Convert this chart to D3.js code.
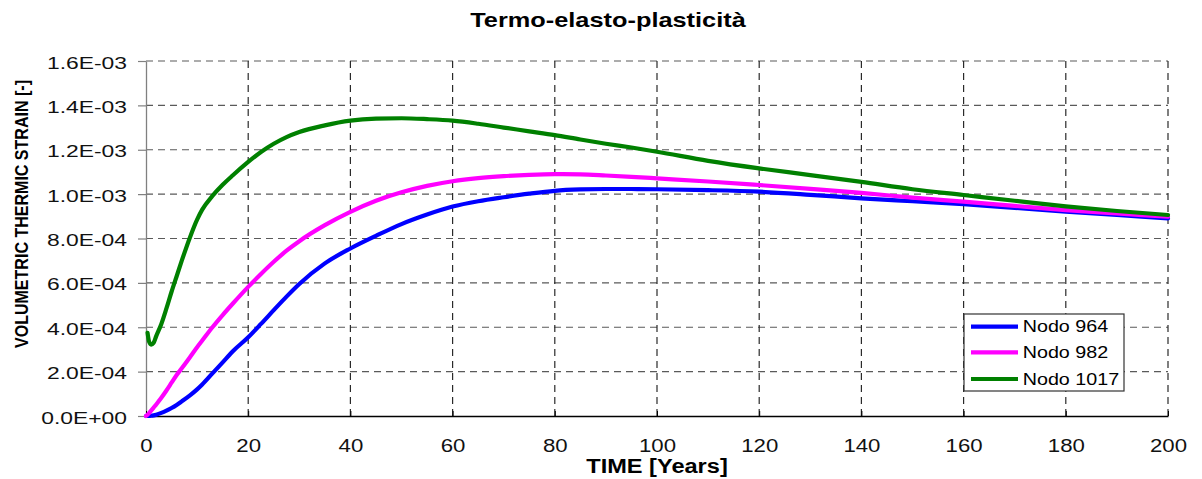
<!DOCTYPE html>
<html>
<head>
<meta charset="utf-8">
<script src="https://cdn.jsdelivr.net/npm/d3@7"></script>
<style>
  html, body { margin: 0; padding: 0; background: #fff; }
  svg { display: block; font-family: "Liberation Sans", Arial, sans-serif; }
</style>
</head>
<body>
<svg id="chart" width="1202" height="479"></svg>
<script>
// Time samples (years) shared by all three nodes
const years = [0, 0.3, 0.6, 1, 1.5, 2, 3, 4, 5, 6, 7, 8.6, 10, 11, 13, 15, 17, 20, 22.5, 25, 27.5, 30,
  35, 40, 45, 50, 55, 60, 65, 70, 75, 80, 85, 90, 95, 100, 110, 120, 130, 140, 150, 160, 170, 180, 190, 200];

// Volumetric thermic strain, in units of 1E-04
const nodo964 = [0, 0, 0.005, 0.01, 0.03, 0.06, 0.14, 0.24, 0.36, 0.5, 0.66, 0.93, 1.2, 1.42, 1.92, 2.42, 2.92, 3.55,
  4.15, 4.77, 5.38, 5.95, 6.88, 7.55, 8.12, 8.65, 9.08, 9.44, 9.68, 9.86, 10.02, 10.15, 10.21, 10.23, 10.23, 10.22,
  10.18, 10.11, 9.97, 9.81, 9.68, 9.55, 9.38, 9.21, 9.06, 8.91];
const nodo982 = [0, 0.06, 0.13, 0.24, 0.38, 0.52, 0.82, 1.15, 1.5, 1.85, 2.15, 2.65, 3.1, 3.4, 4.0, 4.55, 5.07, 5.82,
  6.4, 6.95, 7.45, 7.88, 8.6, 9.2, 9.7, 10.08, 10.37, 10.58, 10.72, 10.81, 10.87, 10.9, 10.89, 10.84, 10.78, 10.71,
  10.57, 10.41, 10.24, 10.06, 9.84, 9.66, 9.47, 9.28, 9.13, 8.98];
const nodo1017 = [null, 3.75, 3.35, 3.22, 3.3, 3.6, 4.15, 4.85, 5.6, 6.3, 7.0, 8.05, 8.85, 9.3, 9.92, 10.42, 10.85, 11.45,
  11.9, 12.27, 12.57, 12.8, 13.1, 13.31, 13.4, 13.42, 13.38, 13.31, 13.17, 13.0, 12.83, 12.66, 12.46, 12.27, 12.1, 11.91,
  11.5, 11.16, 10.86, 10.55, 10.22, 9.96, 9.7, 9.45, 9.24, 9.06];

const seriesNames = ["Nodo 964", "Nodo 982", "Nodo 1017"];
const seriesColors = ["#0000ff", "#ff00ff", "#008000"];

const xTicks = [0, 20, 40, 60, 80, 100, 120, 140, 160, 180, 200];
const yTicks = [0, 2e-4, 4e-4, 6e-4, 8e-4, 1e-3, 1.2e-3, 1.4e-3, 1.6e-3];
const yTickLabels = ["0.0E+00", "2.0E-04", "4.0E-04", "6.0E-04", "8.0E-04", "1.0E-03", "1.2E-03", "1.4E-03", "1.6E-03"];

const svg = d3.select("#chart");
const x = d3.scaleLinear().domain([0, 200]).range([146, 1168]);
const y = d3.scaleLinear().domain([0, 1.6e-3]).range([416, 61]);

svg.append("rect").attr("width", 1202).attr("height", 479).attr("fill", "#fff");

// Grid
const grid = svg.append("g");
grid.selectAll("line.h").data(yTicks.slice(1)).join("line")
  .attr("x1", x(0)).attr("x2", x(200))
  .attr("y1", d => y(d)).attr("y2", d => y(d))
  .attr("stroke", "#5a5a5a").attr("stroke-width", 1.2).attr("stroke-dasharray", "7,5");
grid.selectAll("line.v").data(xTicks.slice(1)).join("line")
  .attr("x1", d => x(d)).attr("x2", d => x(d))
  .attr("y1", y(1.6e-3)).attr("y2", y(0))
  .attr("stroke", "#2a2a2a").attr("stroke-width", 1.2).attr("stroke-dasharray", "7,5");

// Axes
const yAxis = svg.append("g").attr("transform", `translate(${x(0)},0)`)
  .call(d3.axisLeft(y).tickValues(yTicks).tickFormat((d, i) => yTickLabels[i]).tickSize(8).tickSizeOuter(0));
yAxis.select(".domain").attr("stroke", "#808080").attr("stroke-width", 1.3);
yAxis.selectAll(".tick line").attr("stroke", "#808080").attr("stroke-width", 1.2);
yAxis.selectAll(".tick text")
  .attr("x", null).attr("dy", null)
  .attr("transform", "translate(-19,7) scale(1.33,1)")
  .attr("text-anchor", "end")
  .attr("font-size", 17.2).attr("fill", "#111")
  .attr("font-family", "Liberation Sans, Arial, sans-serif");

const xAxis = svg.append("g").attr("transform", `translate(0,${y(0)})`)
  .call(d3.axisBottom(x).tickValues(xTicks).tickFormat(d3.format("d")).tickSize(-5).tickSizeOuter(0));
xAxis.select(".domain").attr("stroke", "#000").attr("stroke-width", 1.3);
xAxis.selectAll(".tick line").attr("stroke", "#000");
xAxis.selectAll(".tick text")
  .attr("y", null).attr("dy", null)
  .attr("transform", "translate(0,35.5) scale(1.2,1)")
  .attr("font-size", 18.5).attr("fill", "#111")
  .attr("font-family", "Liberation Sans, Arial, sans-serif");

// Curves
const series = [nodo964, nodo982, nodo1017];
const line = d3.line()
  .defined(d => d[1] !== null)
  .x(d => x(d[0]))
  .y(d => y(d[1] * 1e-4))
  .curve(d3.curveMonotoneX);

series.forEach((vals, i) => {
  svg.append("path")
    .datum(years.map((t, k) => [t, vals[k]]))
    .attr("fill", "none")
    .attr("stroke", seriesColors[i])
    .attr("stroke-width", 4.2)
    .attr("stroke-linejoin", "round")
    .attr("stroke-linecap", "round")
    .attr("d", line);
});

// Titles
function stretchedText(parent, tx, ty, sx, txt, size, weight, anchor) {
  return parent.append("text")
    .attr("transform", `translate(${tx},${ty}) scale(${sx},1)`)
    .attr("text-anchor", anchor)
    .attr("font-size", size)
    .attr("font-weight", weight)
    .attr("fill", "#000")
    .text(txt);
}
stretchedText(svg, 608, 26.7, 1.3, "Termo-elasto-plasticità", 19.5, "bold", "middle");
stretchedText(svg, 657, 473.3, 1.21, "TIME [Years]", 19.5, "bold", "middle");

svg.append("text")
  .attr("transform", "translate(27.5,214) rotate(-90)")
  .attr("text-anchor", "middle")
  .attr("font-size", 17.5)
  .attr("font-weight", "bold")
  .attr("textLength", 268)
  .attr("lengthAdjust", "spacingAndGlyphs")
  .text("VOLUMETRIC THERMIC STRAIN [-]");

// Legend
const legend = svg.append("g");
legend.append("rect")
  .attr("x", 964).attr("y", 314).attr("width", 160).attr("height", 77)
  .attr("fill", "#fff").attr("stroke", "#333").attr("stroke-width", 1.2);
const legendY = [326.7, 352.3, 379];
seriesNames.forEach((name, i) => {
  legend.append("line")
    .attr("x1", 971).attr("x2", 1018)
    .attr("y1", legendY[i]).attr("y2", legendY[i])
    .attr("stroke", seriesColors[i]).attr("stroke-width", 4.2);
  stretchedText(legend, 1022.7, legendY[i] + 5.7, 1.21, name, 16.3, "normal", "start");
});
</script>
</body>
</html>
